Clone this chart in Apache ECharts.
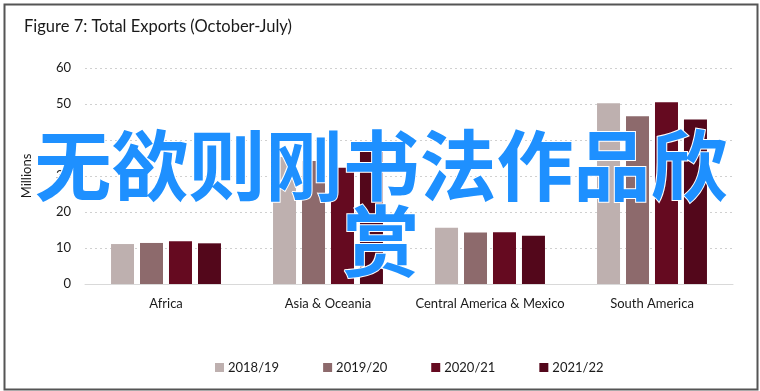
<!DOCTYPE html>
<html><head><meta charset="utf-8">
<script src="https://cdn.jsdelivr.net/npm/echarts@6/dist/echarts.min.js"></script>
<style>html,body{margin:0;padding:0;background:#fff}#c{width:760px;height:391px}</style>
</head><body><div id="c"></div>
<script>
const categories = ['Africa', 'Asia & Oceania', 'Central America & Mexico', 'South America'];
const seriesNames = ['2018/19', '2019/20', '2020/21', '2021/22'];
const v2018 = [11.1, 35.3, 15.6, 50.2];
const v2019 = [11.4, 34.2, 14.3, 46.6];
const v2020 = [11.9, 32.3, 14.4, 50.5];
const v2021 = [11.3, 37.0, 13.4, 45.7];
const yTicks = [0, 10, 20, 30, 40, 50, 60];
const colors = ['#BEB0AF', '#8D6A6C', '#650A20', '#53071B'];
const overlayLines = ['无欲则刚书法作品欣', '赏'];

const font = 'Lato, "Open Sans", sans-serif';
const chart = echarts.init(document.getElementById('c'), null, {renderer: 'canvas'});
const values = [v2018, v2019, v2020, v2021];
chart.setOption({
  animation: false,
  textStyle: {fontFamily: font},
  title: {text: 'Figure 7: Total Exports (October-July)', left: 19, top: 13,
    textStyle: {fontFamily: font, fontSize: 16.5, fontWeight: 'normal', color: '#1a1a1a'}},
  grid: {left: 85, right: 27, top: 68, bottom: 107, containLabel: false},
  legend: {data: seriesNames, left: 210, top: 356, itemWidth: 9, itemHeight: 9, itemGap: 44,
    icon: 'rect', textStyle: {fontFamily: font, fontSize: 13, color: '#1a1a1a', padding: [0,0,0,-1]}},
  xAxis: {type: 'category', data: categories,
    axisLine: {lineStyle: {color: '#d9d9d9', width: 1}}, axisTick: {show: false},
    axisLabel: {interval: 0, fontFamily: font, fontSize: 13, color: '#1a1a1a', margin: 13}},
  yAxis: {type: 'value', min: yTicks[0], max: yTicks[yTicks.length-1], interval: 10,
    name: 'Millions', nameLocation: 'middle', nameGap: 52,
    nameTextStyle: {fontFamily: font, fontSize: 13, color: '#1a1a1a'},
    axisLabel: {fontFamily: font, fontSize: 13, color: '#1a1a1a', margin: 14},
    splitLine: {lineStyle: {color: '#d0d0d0', type: [2, 3], width: 1}},
    axisLine: {show: false}, axisTick: {show: false}},
  series: seriesNames.map((n, i) => ({name: n, type: 'bar', data: values[i],
    barWidth: 23, barGap: '26%', itemStyle: {color: colors[i]}})),
  graphic: [
    {type: 'rect', left: 2, top: 2, shape: {width: 753, height: 385},
      style: {fill: 'none', stroke: '#555', lineWidth: 2}, silent: true},
    {type: 'text', x: 381, y: 166, z: 100, style: {text: overlayLines[0], align: 'center', verticalAlign: 'middle',
      font: 'bold 77px "Noto Sans CJK SC"', fill: '#1E90FF', stroke: '#fff', lineWidth: 2}},
    {type: 'text', x: 381, y: 242, z: 100, style: {text: overlayLines[1], align: 'center', verticalAlign: 'middle',
      font: 'bold 77px "Noto Sans CJK SC"', fill: '#1E90FF', stroke: '#fff', lineWidth: 2}}
  ]
});
</script></body></html>
